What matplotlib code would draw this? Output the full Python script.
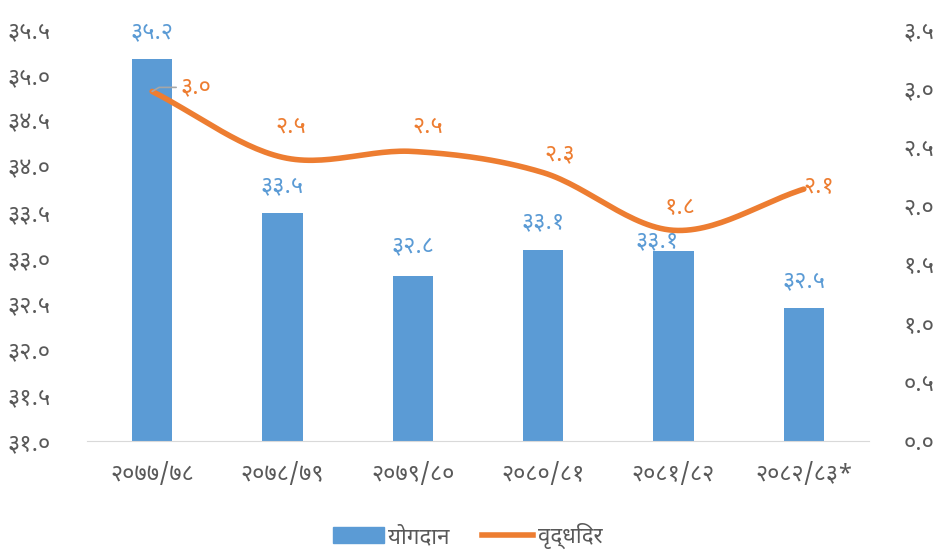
import matplotlib
matplotlib.use("Agg")
import matplotlib.pyplot as plt
import numpy as np
from matplotlib import font_manager
from matplotlib.ft2font import FT2Font
from matplotlib.patches import Patch
from matplotlib.lines import Line2D

categories = ["२०७७/७८", "२०७८/७९", "२०७९/८०", "२०८०/८१", "२०८१/८२", "२०८२/८३*"]
contribution = [35.17, 33.49, 32.80, 33.09, 33.07, 32.45]
contribution_labels = ["३५.२", "३३.५", "३२.८", "३३.१", "३३.१", "३२.५"]
growth = [2.97, 2.41, 2.46, 2.28, 1.79, 2.14]
growth_labels = ["३.०", "२.५", "२.५", "२.३", "१.८", "२.१"]
left_ticks = [31.0, 31.5, 32.0, 32.5, 33.0, 33.5, 34.0, 34.5, 35.0, 35.5]
right_ticks = [0.0, 0.5, 1.0, 1.5, 2.0, 2.5, 3.0, 3.5]
legend_names = ["योगदान", "वृद्धिदर"]

DEV = str.maketrans("0123456789", "०१२३४५६७८९")
def dev(s):
    return s.translate(DEV)

found = set()
for f in font_manager.fontManager.ttflist:
    try:
        cm = FT2Font(f.fname).get_charmap()
        if 0x0966 in cm and 0x092F in cm:
            found.add(f.name)
    except Exception:
        pass
pref = ["Noto Sans Devanagari", "Mukta", "Hind", "Poppins", "Amiko", "Annapurna SIL", "FreeSans"]
chosen = next((p for p in pref if p in found), None)
plt.rcParams['font.family'] = ([chosen] if chosen else []) + ["DejaVu Sans"]

BLUE = "#5B9BD5"
ORANGE = "#ED7D31"
GRAY = "#595959"

fig = plt.figure(figsize=(9.35, 5.5), dpi=100)
ax = fig.add_axes([87/935, 1-441/550, (869-87)/935, (441-29)/550])
x = np.arange(len(categories))
ax.bar(x, np.array(contribution) - 31.0, bottom=31.0, width=0.31, color=BLUE, zorder=2)
ax.set_ylim(31.0, 35.5)
ax.set_xlim(-0.5, len(categories) - 0.5)
ax.set_yticks(left_ticks)
ax.set_yticklabels([dev(f"{t:.1f}") for t in left_ticks])
ax.set_xticks(x)
ax.set_xticklabels(categories)
for s in ["top", "right", "left"]:
    ax.spines[s].set_visible(False)
ax.spines["bottom"].set_color("#D9D9D9")
ax.tick_params(axis="both", length=0, colors=GRAY, labelsize=17)
ax.tick_params(axis="x", pad=16)
ax.tick_params(axis="y", pad=26)

ax2 = ax.twinx()
ax2.set_ylim(0, 3.5)
ax2.set_yticks(right_ticks)
ax2.set_yticklabels([dev(f"{t:.1f}") for t in right_ticks])
for s in ax2.spines.values():
    s.set_visible(False)
ax2.tick_params(axis="y", length=0, colors=GRAY, labelsize=17, pad=25)

# smooth line through the data points (Catmull-Rom)
pts = np.column_stack([x, growth]).astype(float)
P = np.vstack([pts[0] - (pts[1] - pts[0]), pts, pts[-1] + (pts[-1] - pts[-2])])
xs, ys = [], []
for i in range(1, len(P) - 2):
    p0, p1, p2, p3 = P[i-1], P[i], P[i+1], P[i+2]
    for t in np.linspace(0, 1, 30, endpoint=False):
        t2, t3 = t*t, t*t*t
        c = 0.5*((2*p1) + (-p0+p2)*t + (2*p0-5*p1+4*p2-p3)*t2 + (-p0+3*p1-3*p2+p3)*t3)
        xs.append(c[0]); ys.append(c[1])
xs.append(pts[-1][0]); ys.append(pts[-1][1])
ax2.plot(xs, ys, color=ORANGE, lw=4, solid_capstyle="round", zorder=3)

# bar labels (offsets in pixels)
bar_off = [(0, 27), (0, 27), (0, 29), (0, 27), (-16, 10), (0, 27)]
for i, (v, lab) in enumerate(zip(contribution, contribution_labels)):
    dx, dy = bar_off[i]
    ax.annotate(lab, (x[i], v), xytext=(dx, dy), textcoords="offset pixels",
                ha="center", va="center", color=BLUE, fontsize=17, fontweight="bold")

# line labels
g_off = [(44, 4), (8, 31), (15, 25), (17, 18), (6, 22), (15, 3)]
for i, (v, lab) in enumerate(zip(growth, growth_labels)):
    dx, dy = g_off[i]
    ax2.annotate(lab, (x[i], v), xytext=(dx, dy), textcoords="offset pixels",
                 ha="center", va="center", color=ORANGE, fontsize=17, fontweight="bold")
# leader line for first label
ax2.annotate("", (x[0], growth[0]), xytext=(24, 4), textcoords="offset pixels",
             arrowprops=dict(arrowstyle="-", color="#A6A6A6", lw=1.2, shrinkA=0, shrinkB=0,
                             connectionstyle="angle,angleA=0,angleB=30,rad=0"))

handles = [Patch(color=BLUE), Line2D([0], [0], color=ORANGE, lw=4)]
fig.legend(handles, legend_names, loc="center", bbox_to_anchor=(0.5, 1-536/550), ncol=2,
           frameon=False, fontsize=16, labelcolor=GRAY, handlelength=2.3, handletextpad=0.2,
           columnspacing=1.45)

fig.savefig("out.png", dpi=100)
